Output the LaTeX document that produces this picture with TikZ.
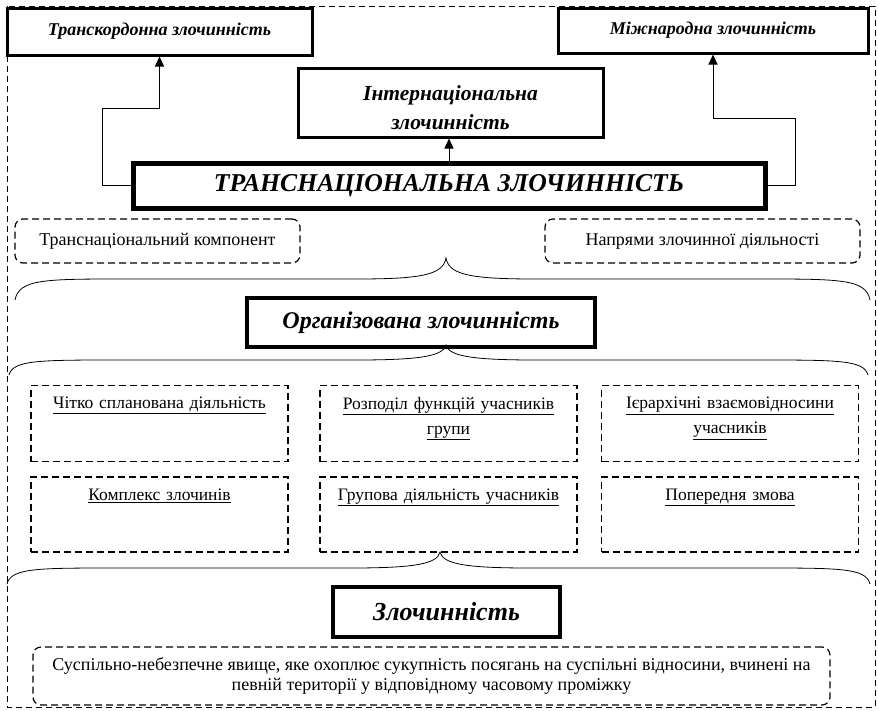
\documentclass[tikz,border=0pt]{standalone}
\usepackage{fontspec}
\setmainfont{Liberation Serif}
\usetikzlibrary{arrows.meta}
\usetikzlibrary{positioning,calc}
\tikzset{
  hardbox/.style={draw, rectangle, line width=3pt, align=center, inner sep=2pt,
    font=\bfseries\itshape\fontsize{18}{21}\selectfont},
  softbox/.style={draw, rectangle, line width=1.2pt, dash pattern=on 7pt off 4pt,
    rounded corners=8pt, align=center, font=\fontsize{18}{20}\selectfont},
  cellbox/.style={draw, rectangle, line width=1.2pt, dash pattern=on 7pt off 4pt,
    minimum width=257pt, minimum height=76pt},
  celltxt/.style={align=center, text width=250pt, inner sep=2pt,
    font=\fontsize{17.5}{25}\selectfont},
  arr/.style={-{Triangle[length=10pt,width=9pt]}, line width=1pt},
  bracel/.style={line width=0.8pt}
}
% brace: left x, right x, tip x, end y, tip y
\newcommand{\wordbrace}[5]{%
  \draw[bracel] (#1,#4) .. controls (#1+4,{(#4+#5)/2}) and (#1+30,{(#4+#5)/2}) .. (#1+110,{(#4+#5)/2})
    -- (#3-90,{(#4+#5)/2}) .. controls (#3-25,{(#4+#5)/2}) and (#3-3,{(#4+#5)/2-4}) .. (#3,#5)
    .. controls (#3+3,{(#4+#5)/2-4}) and (#3+25,{(#4+#5)/2}) .. (#3+90,{(#4+#5)/2})
    -- (#2-110,{(#4+#5)/2}) .. controls (#2-30,{(#4+#5)/2}) and (#2-4,{(#4+#5)/2}) .. (#2,#4);}
\begin{document}
\begin{tikzpicture}[x=1pt, y=-1pt]
  \useasboundingbox (0,0) rectangle (878,710);
  \draw[line width=1pt, dash pattern=on 6pt off 4pt] (7,6) rectangle (875,707);

  % upper part
  \node[hardbox, fill=white, minimum width=305pt, minimum height=47pt] (trk) at (159.5,31.5)
    {Транскордонна злочинність};
  \node[hardbox, fill=white, minimum width=310pt, minimum height=45pt] (mzh) at (713,30.5)
    {Міжнародна злочинність};
  \node[hardbox, minimum width=305pt, minimum height=69pt,
    font=\bfseries\itshape\fontsize{21.5}{29}\selectfont] (intl) at (450.5,102.5)
    {\rule{0pt}{26pt}Інтернаціональна\\злочинність};
  \node[hardbox, line width=5pt, minimum width=632pt, minimum height=45pt,
    font=\bfseries\itshape\fontsize{25.7}{30}\selectfont] (tn) at (449,185.5)
    {ТРАНСНАЦІОНАЛЬНА ЗЛОЧИННІСТЬ};

  \coordinate (l1) at (102,108);
  \coordinate (r1) at (795,118);
  \draw[arr] (tn.west) -| (l1) -| (trk.south);
  \draw[arr] (tn.east) -| (r1) -| (mzh.south);
  \draw[arr] (tn.north) -- (tn.north |- intl.south);

  \node[softbox, minimum width=285pt, minimum height=44pt] (comp) at (157.5,241)
    {Транснаціональний компонент};
  \node[softbox, minimum width=315pt, minimum height=44pt] (napr) at (702.5,241)
    {Напрями злочинної діяльності};

  \wordbrace{15}{870}{446}{300}{258}

  % organised crime
  \node[hardbox, line width=4pt, minimum width=348pt, minimum height=49pt,
    font=\bfseries\itshape\fontsize{24}{28}\selectfont] (org) at (421,322.5)
    {Організована злочинність};

  \wordbrace{9}{868}{446}{375}{345}

  \node[cellbox] (c11) at (159.5,423.5) {};
  \node[cellbox] (c12) at (448.5,423.5) {};
  \node[cellbox] (c13) at (730,423.5) {};
  \node[cellbox, minimum height=75pt] (c21) at (159.5,514.5) {};
  \node[cellbox, minimum height=75pt] (c22) at (448.5,514.5) {};
  \node[cellbox, minimum height=75pt] (c23) at (730,514.5) {};

  \node[celltxt, below=10pt of c11.north] (t11) {\underline{Чітко спланована діяльність}};
  \node[celltxt, below=10pt of c12.north] (t12) {\underline{Розподіл функцій учасників}\\\underline{групи}};
  \node[celltxt, below=10pt of c13.north] (t13) {\underline{Ієрархічні взаємовідносини}\\\underline{учасників}};
  \node[celltxt, below=10pt of c21.north] (t21) {\underline{Комплекс злочинів}};
  \node[celltxt, below=10pt of c22.north] (t22) {\underline{Групова діяльність учасників}};
  \node[celltxt, below=10pt of c23.north] (t23) {\underline{Попередня змова}};

  \wordbrace{7}{870}{440}{584}{552}

  % crime
  \node[hardbox, line width=4pt, minimum width=227pt, minimum height=50pt,
    font=\bfseries\itshape\fontsize{26}{30}\selectfont] (zl) at (446.5,612)
    {Злочинність};
  \node[softbox, minimum width=797pt, minimum height=58pt] (def) at (431.5,676)
    {Суспільно-небезпечне явище, яке охоплює сукупність посягань на суспільні відносини, вчинені на\\
     певній території у відповідному часовому проміжку};
\end{tikzpicture}
\end{document}
